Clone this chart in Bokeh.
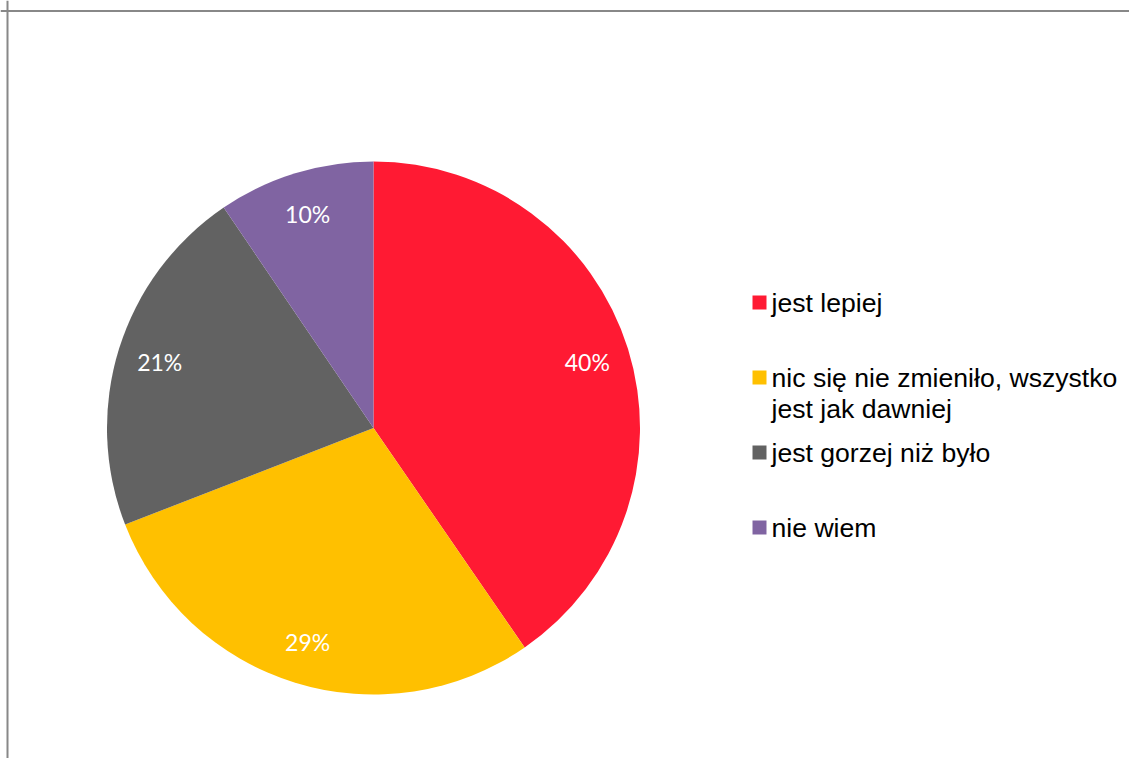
import math
from bokeh.plotting import figure
from bokeh.models import Range1d, Span, ColumnDataSource
from bokeh.core.properties import value
from bokeh.embed import file_html
from bokeh.resources import INLINE

# ---- data ----
categories = ["jest lepiej",
              "nic się nie zmieniło, wszystko\njest jak dawniej",
              "jest gorzej niż było",
              "nie wiem"]
shares = [40.4, 28.7, 21.4, 9.5]
colors = ["#FF1A33", "#FFC000", "#626262", "#8064A2"]

# ---- layout (pixels, y up) ----
W, H = 1129, 758
CX, CY, R = 373.0, 330.5, 266.5
LABEL_R = 0.84
LEG_X_SQ, LEG_X_TXT = 759.0, 771.0
LEG_Y0, LEG_STEP, LINE_STEP = 456.0, 75.0, 31.0

p = figure(width=W, height=H, output_backend="svg", toolbar_location=None,
           x_range=Range1d(0, W), y_range=Range1d(0, H),
           min_border=0, min_border_left=0, min_border_right=0,
           min_border_top=0, min_border_bottom=0)
p.axis.visible = False
p.grid.visible = False
p.outline_line_color = None
p.background_fill_color = "white"
p.border_fill_color = "white"

total = sum(shares)
starts, ends, mids = [], [], []
cum = 0.0
for s in shares:
    a0 = cum / total
    cum += s
    a1 = cum / total
    starts.append(math.pi / 2 - 2 * math.pi * a0)
    ends.append(math.pi / 2 - 2 * math.pi * a1)
    mids.append(math.pi / 2 - 2 * math.pi * (a0 + a1) / 2)

src = ColumnDataSource(dict(start=starts, end=ends, color=colors))
p.wedge(x=CX, y=CY, radius=R, start_angle="start", end_angle="end",
        direction="clock", fill_color="color", line_color=None, source=src)

lx = [CX + LABEL_R * R * math.cos(m) for m in mids]
ly = [CY + LABEL_R * R * math.sin(m) for m in mids]
pct = [f"{s:.0f}%" for s in shares]
p.text(x=lx, y=ly, text=pct, text_color="white", text_font=value("Lato"),
       text_font_size="23px", text_align="center", text_baseline="middle")

# legend
sq_x, sq_y, tx, ty, tt = [], [], [], [], []
for i, (cat, col) in enumerate(zip(categories, colors)):
    y = LEG_Y0 - i * LEG_STEP
    sq_x.append(LEG_X_SQ)
    sq_y.append(y)
    for j, line in enumerate(cat.split("\n")):
        tx.append(LEG_X_TXT)
        ty.append(y - j * LINE_STEP)
        tt.append(line)
p.rect(x=sq_x, y=sq_y, width=14, height=14, fill_color=colors, line_color=None)
p.text(x=tx, y=ty, text=tt, text_color="black", text_font=value("Liberation Sans"),
       text_font_size="26.6px", text_align="left", text_baseline="middle")

# chart-area border (top and left only visible)
p.add_layout(Span(location=7.0, dimension="height", line_color="#888888", line_width=2))
p.add_layout(Span(location=H - 10.5, dimension="width", line_color="#888888", line_width=2))

open("out.html", "w").write(file_html(p, INLINE))
